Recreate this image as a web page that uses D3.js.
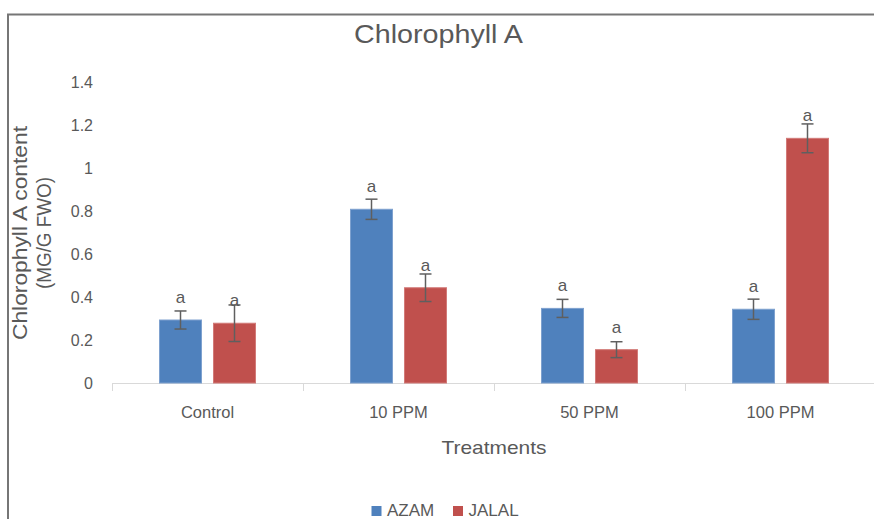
<!DOCTYPE html>
<html>
<head>
<meta charset="utf-8">
<script src="https://cdn.jsdelivr.net/npm/d3@7"></script>
<style>
  body { margin: 0; background: #fff; }
  svg { display: block; font-family: "Liberation Sans", Arial, sans-serif; }
</style>
</head>
<body>
<div id="chart"></div>
<script>
// data
const categories = ["Control", "10 PPM", "50 PPM", "100 PPM"];
const seriesNames = ["AZAM", "JALAL"];
const azam = [0.293, 0.808, 0.347, 0.343];
const jalal = [0.278, 0.443, 0.155, 1.138];
const azamErr = [0.042, 0.047, 0.042, 0.047];
const jalalErr = [0.085, 0.064, 0.037, 0.067];
const sigLetters = [["a", "a", "a", "a"], ["a", "a", "a", "a"]];
const yTicks = [0, 0.2, 0.4, 0.6, 0.8, 1, 1.2, 1.4];
const colors = ["#4F81BD", "#C0504D"];

const width = 874, height = 519;
const textCol = "#595959";

const svg = d3.select("#chart").append("svg")
  .attr("width", width)
  .attr("height", height);

// frame (chart border, cut off at right and bottom)
svg.append("path")
  .attr("d", `M8,${height} V14.5 H${width}`)
  .attr("fill", "none")
  .attr("stroke", "#767676")
  .attr("stroke-width", 2);

const x = d3.scaleBand().domain(categories).range([112, 876]);
const y = d3.scaleLinear().domain([0, 1.4]).range([383, 82]);
const inner = d3.scaleBand().domain(seriesNames).range([-48, 48]).paddingInner(0.222);

// title
svg.append("text")
  .attr("x", 438.5).attr("y", 43)
  .attr("text-anchor", "middle")
  .attr("font-size", 26)
  .attr("fill", textCol)
  .attr("textLength", 169).attr("lengthAdjust", "spacingAndGlyphs")
  .text("Chlorophyll A");

// y axis labels (no line)
const yAxis = d3.axisLeft(y).tickValues(yTicks).tickSize(0).tickPadding(0)
  .tickFormat(d => d3.format("")(d));
const yg = svg.append("g").attr("transform", "translate(93,0)").call(yAxis);
yg.select(".domain").remove();
yg.selectAll("text").attr("font-size", 16).attr("fill", textCol)
  .attr("font-family", "Liberation Sans, Arial, sans-serif");

// x axis
const xAxis = d3.axisBottom(x).tickSize(0).tickPadding(23);
const xg = svg.append("g").attr("transform", "translate(0,383)").call(xAxis);
xg.select(".domain").attr("stroke", "#d9d9d9").attr("d", "M112,0.5H874");
xg.selectAll("text").attr("font-size", 16.5).attr("fill", textCol)
  .attr("font-family", "Liberation Sans, Arial, sans-serif");
// category separators
const bounds = categories.map(c => x(c)).concat([x.range()[1]]);
svg.append("g").selectAll("line").data(bounds).join("line")
  .attr("x1", d => Math.round(d) + 0.5).attr("x2", d => Math.round(d) + 0.5)
  .attr("y1", 383).attr("y2", 391)
  .attr("stroke", "#d9d9d9");

// bars
const rows = categories.map((c, i) => ({
  cat: c,
  vals: [
    { s: seriesNames[0], v: azam[i], e: azamErr[i], lab: sigLetters[0][i], k: 0 },
    { s: seriesNames[1], v: jalal[i], e: jalalErr[i], lab: sigLetters[1][i], k: 1 }
  ]
}));

const groups = svg.append("g").selectAll("g").data(rows).join("g")
  .attr("transform", d => `translate(${x(d.cat) + x.bandwidth() / 2},0)`);

groups.selectAll("rect").data(d => d.vals).join("rect")
  .attr("x", d => inner(d.s))
  .attr("y", d => y(d.v))
  .attr("width", inner.bandwidth())
  .attr("height", d => y(0) - y(d.v))
  .attr("fill", d => colors[d.k])
  .attr("stroke", d => d.k === 0 ? "#7ea1cf" : "#d27a78")
  .attr("stroke-width", 1);

// error bars
const eb = groups.selectAll("g.err").data(d => d.vals).join("g").attr("class", "err");
eb.append("line")
  .attr("x1", d => inner(d.s) + inner.bandwidth() / 2)
  .attr("x2", d => inner(d.s) + inner.bandwidth() / 2)
  .attr("y1", d => y(d.v + d.e)).attr("y2", d => y(d.v - d.e))
  .attr("stroke", "#5f5f5f").attr("stroke-width", 1.5);
[1, -1].forEach(sign => {
  eb.append("line")
    .attr("x1", d => inner(d.s) + inner.bandwidth() / 2 - 6)
    .attr("x2", d => inner(d.s) + inner.bandwidth() / 2 + 6)
    .attr("y1", d => y(d.v + sign * d.e)).attr("y2", d => y(d.v + sign * d.e))
    .attr("stroke", "#5f5f5f").attr("stroke-width", 1.5);
});

// significance letters
groups.selectAll("text.sig").data(d => d.vals).join("text").attr("class", "sig")
  .attr("x", d => inner(d.s) + inner.bandwidth() / 2)
  .attr("y", d => y(d.v) - 17)
  .attr("text-anchor", "middle")
  .attr("font-size", 17)
  .attr("fill", textCol)
  .text(d => d.lab);

// axis titles
svg.append("text")
  .attr("x", 494).attr("y", 454)
  .attr("text-anchor", "middle")
  .attr("font-size", 19)
  .attr("fill", textCol)
  .attr("textLength", 105).attr("lengthAdjust", "spacingAndGlyphs")
  .text("Treatments");

const yt = svg.append("text")
  .attr("transform", "translate(0,233) rotate(-90)")
  .attr("text-anchor", "middle")
  .attr("font-size", 20)
  .attr("fill", textCol)
  .attr("lengthAdjust", "spacingAndGlyphs");
yt.append("tspan").attr("x", 0).attr("y", 27)
  .attr("textLength", 214).attr("lengthAdjust", "spacingAndGlyphs")
  .text("Chlorophyll A content");
yt.append("tspan").attr("x", 0).attr("y", 51)
  .attr("textLength", 112).attr("lengthAdjust", "spacingAndGlyphs")
  .text("(MG/G FWO)");

// legend
const legX = [371.5, 453];
const leg = svg.append("g").selectAll("g").data(seriesNames).join("g")
  .attr("transform", (d, i) => `translate(${legX[i]},0)`);
leg.append("rect")
  .attr("x", 0).attr("y", 506).attr("width", 10).attr("height", 10)
  .attr("fill", (d, i) => colors[i]);
leg.append("text")
  .attr("x", 15.5).attr("y", 516)
  .attr("font-size", 17)
  .attr("fill", textCol)
  .text(d => d);
</script>
</body>
</html>
